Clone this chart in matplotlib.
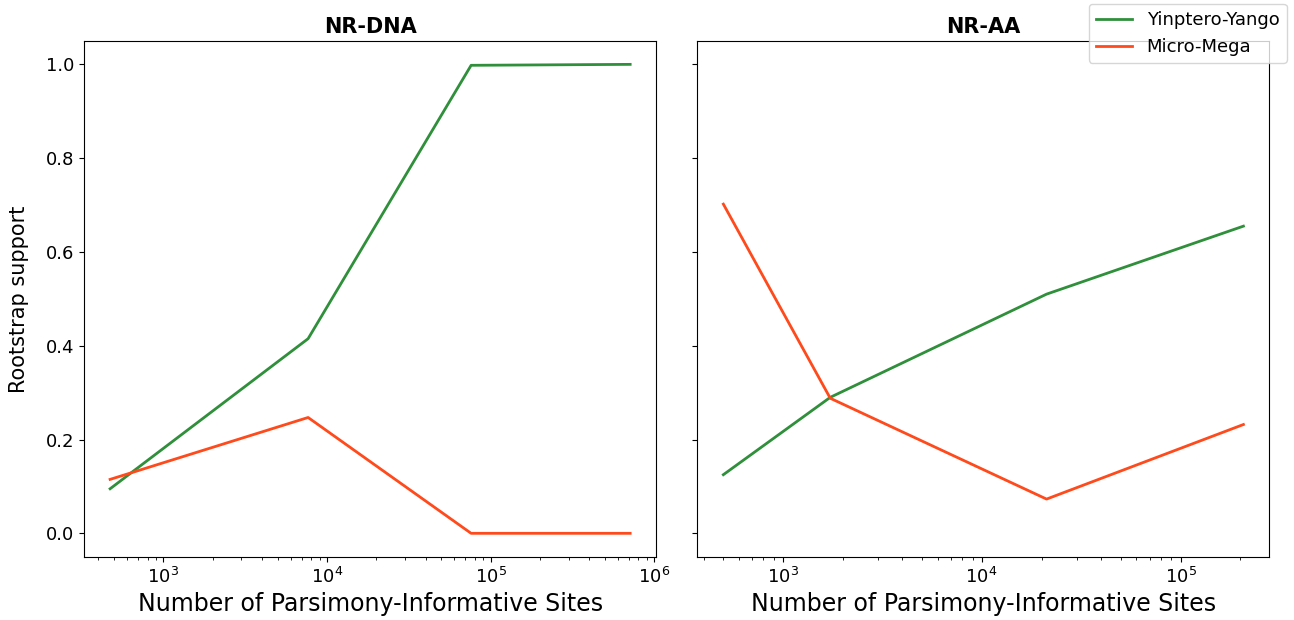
import matplotlib
matplotlib.use('Agg')
import matplotlib.pyplot as plt

# Valores
sitios_dna = [472, 7660, 76000, 713000]
yinpt_dna = [0.095, 0.415, 0.998, 1.0]
micro_dna = [0.115, 0.247, 0.0, 0.0]

sitios_aa = [503, 1734, 21200, 207000]
yinpt_aa = [0.125, 0.29, 0.51, 0.655]
micro_aa = [0.702, 0.288, 0.073, 0.232]

titulos = ['NR-DNA', 'NR-AA']
cor_verde = '#2f8f3a'
cor_laranja = '#ff4a1c'

fig, eixos = plt.subplots(1, 2, figsize=(12.94, 6.2), dpi=100, sharey=True)
fig.subplots_adjust(left=0.065, right=0.981, bottom=0.102, top=0.934, wspace=0.072)

dados = [(sitios_dna, yinpt_dna, micro_dna), (sitios_aa, yinpt_aa, micro_aa)]
for ax, titulo, (x, verde, laranja) in zip(eixos, titulos, dados):
    ax.plot(x, verde, color=cor_verde, linewidth=2, label='Yinptero-Yango')
    ax.plot(x, laranja, color=cor_laranja, linewidth=2, label='Micro-Mega')
    ax.set_xscale('log')
    ax.set_title(titulo, fontsize=15, fontweight='bold')
    ax.set_xlabel('Number of Parsimony-Informative Sites', fontsize=17)
    ax.tick_params(labelsize=13)

eixos[0].set_ylabel('Rootstrap support', fontsize=15, labelpad=12)

linhas, rotulos = eixos[0].get_legend_handles_labels()
fig.legend(linhas, rotulos, loc='upper right', fontsize=13,
           bbox_to_anchor=(0.997, 1.0), borderaxespad=0.2)

plt.savefig('out.png')
